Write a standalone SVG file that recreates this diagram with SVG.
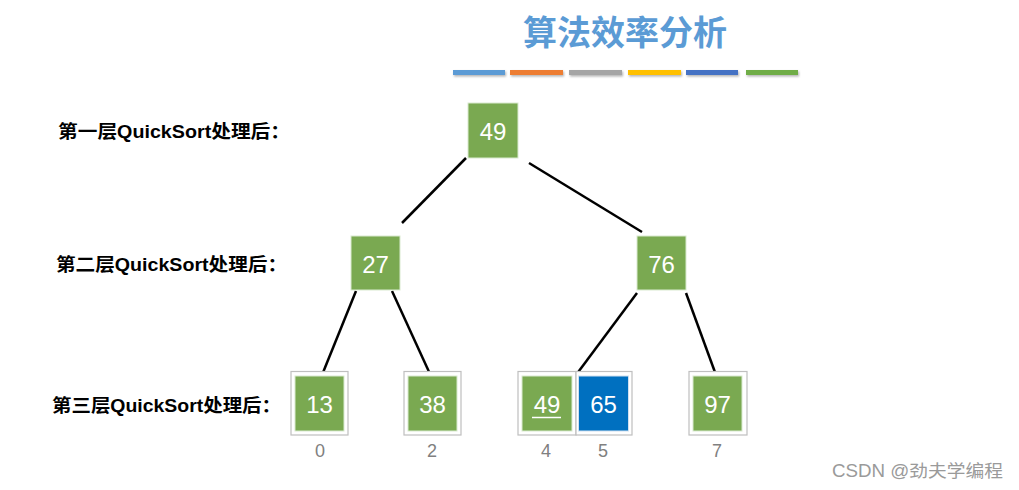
<svg xmlns="http://www.w3.org/2000/svg" width="1019" height="490" viewBox="0 0 1019 490">
<defs>
<style>
.lbl{font-family:"Liberation Sans","Noto Sans CJK SC",sans-serif;font-weight:bold;font-size:18px;fill:#000}
.num{font-family:"Liberation Sans",sans-serif;font-size:24px;fill:#fff;text-anchor:middle}
.idx{font-family:"Liberation Sans",sans-serif;font-size:18px;fill:#808080;text-anchor:middle}
.g{fill:#7aa951;stroke:#d9ead0;stroke-width:1}
.b{fill:#0070c0;stroke:#d0e0f0;stroke-width:1}
.fr{fill:#fff;stroke:#bfbfbf;stroke-width:1.2}
.edge{stroke:#000;stroke-width:2.5;fill:none}
.bar{filter:url(#sh)}
</style>
<filter id="sh" x="-10%" y="-50%" width="130%" height="300%">
<feDropShadow dx="1" dy="1.5" stdDeviation="1" flood-color="#000" flood-opacity="0.3"/>
</filter>
</defs>
<rect width="1019" height="490" fill="#fff"/>
<text x="625" y="45" text-anchor="middle" font-family="'Noto Sans CJK SC',sans-serif" font-weight="bold" font-size="34" fill="#5b9bd5">算法效率分析</text>
<g id="bars">
<rect class="bar" x="453" y="70" width="52" height="5" fill="#5b9bd5"/>
<rect class="bar" x="510" y="70" width="53" height="5" fill="#ed7d31"/>
<rect class="bar" x="569" y="70" width="53" height="5" fill="#a5a5a5"/>
<rect class="bar" x="628" y="70" width="53" height="5" fill="#ffc000"/>
<rect class="bar" x="686" y="70" width="52" height="5" fill="#4472c4"/>
<rect class="bar" x="746" y="70" width="52" height="5" fill="#70ad47"/>
</g>
<g id="labels">
<text class="lbl" x="58" y="138" textLength="232" lengthAdjust="spacingAndGlyphs">第一层QuickSort处理后：</text>
<text class="lbl" x="56" y="271" textLength="231" lengthAdjust="spacingAndGlyphs">第二层QuickSort处理后：</text>
<text class="lbl" x="52" y="412" textLength="229" lengthAdjust="spacingAndGlyphs">第三层QuickSort处理后：</text>
</g>
<g id="connectors">
<line class="edge" x1="466" y1="158" x2="402" y2="223"/>
<line class="edge" x1="529" y1="163" x2="642" y2="232"/>
<line class="edge" x1="356" y1="291" x2="322" y2="375"/>
<line class="edge" x1="392" y1="291" x2="430" y2="374"/>
<line class="edge" x1="637" y1="293" x2="576" y2="375"/>
<line class="edge" x1="686" y1="293" x2="716" y2="375"/>
</g>
<g id="n49root"><rect class="g" x="468" y="103" width="50" height="55"/><text class="num" x="493" y="139.5">49</text></g>
<g id="n27"><rect class="g" x="351" y="236" width="49" height="54"/><text class="num" x="375.5" y="272.5">27</text></g>
<g id="n76"><rect class="g" x="637" y="236" width="49" height="54"/><text class="num" x="661.5" y="272.5">76</text></g>
<g id="n13"><rect class="fr" x="291" y="371.5" width="57" height="63.5"/><rect class="g" x="295" y="376" width="49" height="55"/><text class="num" x="319.5" y="412.5">13</text><text class="idx" x="320" y="457">0</text></g>
<g id="n38"><rect class="fr" x="404" y="371.5" width="57" height="63.5"/><rect class="g" x="408" y="376" width="49" height="55"/><text class="num" x="432.5" y="412.5">38</text><text class="idx" x="432" y="457">2</text></g>
<g id="n49"><rect class="fr" x="518" y="371.5" width="58" height="63.5"/><rect class="g" x="522" y="376" width="50" height="55"/><text class="num" x="547" y="412.5">49</text><line x1="532" y1="417.5" x2="561" y2="417.5" stroke="#fff" stroke-width="1.5"/><text class="idx" x="546" y="457">4</text></g>
<g id="n65"><rect class="fr" x="576" y="371.5" width="56" height="63.5"/><rect class="b" x="578.5" y="376" width="50" height="55"/><text class="num" x="603.5" y="412.5">65</text><text class="idx" x="603" y="457">5</text></g>
<g id="n97"><rect class="fr" x="689" y="371.5" width="58" height="63.5"/><rect class="g" x="693" y="376" width="49" height="55"/><text class="num" x="717.5" y="412.5">97</text><text class="idx" x="717" y="457">7</text></g>
<text x="832" y="477" font-family="'Liberation Sans','Noto Sans CJK SC',sans-serif" font-size="17.5" fill="#9a9a9a" textLength="171" lengthAdjust="spacingAndGlyphs">CSDN @劲夫学编程</text>
</svg>
